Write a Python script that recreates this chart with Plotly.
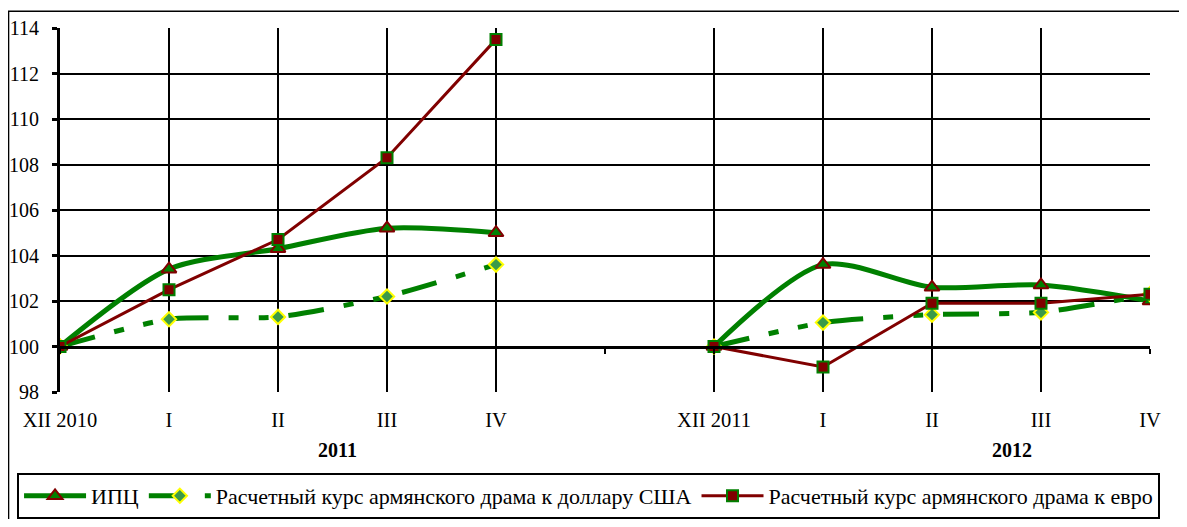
import plotly.graph_objects as go

categories = ["XII 2010", "I", "II", "III", "IV", "", "XII 2011", "I", "II", "III", "IV"]
cpi = [100, 103.4, 104.3, 105.2, 105.0, None, 100, 103.6, 102.6, 102.7, 102.0]
usd = [100, 101.2, 101.3, 102.2, 103.6, None, 100, 101.05, 101.4, 101.5, 102.3]
eur = [100, 102.5, 104.7, 108.3, 113.5, None, 100, 99.1, 101.9, 101.9, 102.3]
group_labels = ["2011", "2012"]
group_pos = [2.55, 8.73]
y_ticks = [98, 100, 102, 104, 106, 108, 110, 112, 114]

names = ["ИПЦ",
         "Расчетный курс армянского драма к доллару США",
         "Расчетный курс армянского драма к евро"]

xs = list(range(len(categories)))
FONT = "Liberation Serif"

fig = go.Figure()
fig.add_trace(go.Scatter(
    x=xs, y=cpi, name=names[0], mode="lines+markers",
    line=dict(color="#008000", width=5, shape="spline", smoothing=0.8),
    marker=dict(symbol="triangle-up", size=13, color="#008000",
                line=dict(color="#800000", width=2)),
    connectgaps=False))
fig.add_trace(go.Scatter(
    x=xs, y=usd, name=names[1], mode="lines+markers",
    line=dict(color="#008000", width=5, shape="spline", smoothing=0.6,
              dash="36px,20px,10px,20px,10px,20px"),
    marker=dict(symbol="diamond", size=11, color="#3a9a4a",
                line=dict(color="#ffff00", width=2)),
    connectgaps=False))
fig.add_trace(go.Scatter(
    x=xs, y=eur, name=names[2], mode="lines+markers",
    line=dict(color="#800000", width=3),
    marker=dict(symbol="square", size=11, color="#800000",
                line=dict(color="#008000", width=2)),
    connectgaps=False))
# helper trace for the crossing axis at 100
fig.add_trace(go.Scatter(x=[0], y=[None], xaxis="x2", showlegend=False,
                         hoverinfo="skip"))

grid_vals = [v for v, c in zip(xs, categories) if c != ""]
fig.update_layout(
    width=1171, height=511,
    margin=dict(l=52, r=29, t=20, b=127, autoexpand=False),
    paper_bgcolor="white", plot_bgcolor="white",
    font=dict(family=FONT, color="black", size=20),
    showlegend=True,
    xaxis=dict(range=[0, 10], tickmode="array", tickvals=grid_vals,
               ticktext=[c for c in categories if c != ""],
               showgrid=True, gridcolor="black", gridwidth=2,
               showline=False, ticks="", zeroline=False, automargin=False,
               ticklabelstandoff=13, tickfont=dict(size=20.5, family=FONT)),
    xaxis2=dict(range=[0, 10], overlaying="x", anchor="free", position=0.125,
                tickmode="array", tickvals=xs, showticklabels=False,
                showgrid=False, showline=True, linecolor="black", linewidth=3,
                ticks="outside", ticklen=5, tickwidth=2, tickcolor="black",
                zeroline=False, automargin=False),
    yaxis=dict(range=[98, 114], tickmode="array", tickvals=y_ticks,
               showgrid=True, gridcolor="black", gridwidth=2,
               showline=True, linecolor="black", linewidth=3,
               ticks="outside", ticklen=5, tickwidth=3, tickcolor="black",
               zeroline=False, ticklabelstandoff=9, automargin=False,
               tickfont=dict(size=20, family=FONT)),
    legend=dict(orientation="h", x=-0.0394, y=-0.2225, xanchor="left",
                yanchor="top", bordercolor="black", borderwidth=2,
                font=dict(size=22, family=FONT), itemwidth=62,
                bgcolor="white"),
)

for lbl, pos in zip(group_labels, group_pos):
    fig.add_annotation(x=pos, y=-0.16, xref="x", yref="paper",
                       text="<b>" + lbl + "</b>",
                       showarrow=False, font=dict(size=20, family=FONT),
                       yanchor="middle")

# outer chart frame
fig.add_shape(type="rect", xref="paper", yref="paper",
              x0=-0.0472, x1=1.06, y0=-0.39, y1=1.046,
              line=dict(color="black", width=1.5), layer="below")

fig.write_html("out.html")
